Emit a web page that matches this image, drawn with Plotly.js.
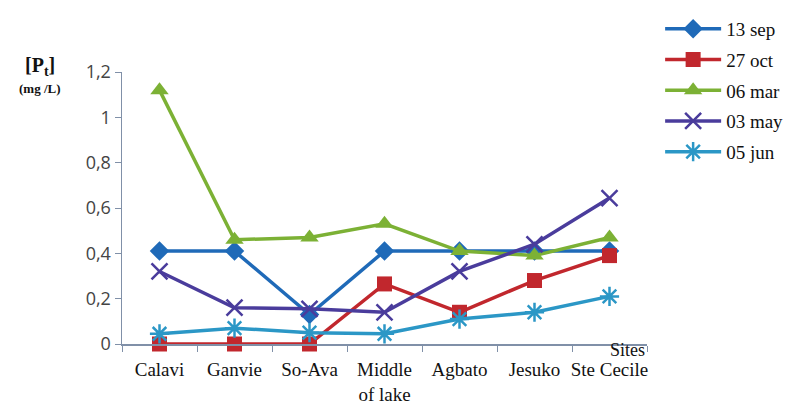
<!DOCTYPE html>
<html><head><meta charset="utf-8">
<script src="https://cdn.plot.ly/plotly-3.0.1.min.js"></script>
<style>html,body{margin:0;padding:0;background:#fff;}#c{width:791px;height:405px;}</style>
</head><body><div id="c"></div>
<script>
const sites = ["Calavi","Ganvie","So-Ava","Middle<br>of lake","Agbato","Jesuko","Ste Cecile"];
const seriesNames = ["13 sep","27 oct","06 mar","03 may","05 jun"];
const sep13 = [0.41,0.41,0.13,0.41,0.41,0.41,0.41];
const oct27 = [0,0,0,0.265,0.14,0.28,0.39];
const mar06 = [1.12,0.46,0.47,0.53,0.41,0.39,0.47];
const may03 = [0.32,0.16,0.155,0.14,0.32,0.44,0.644];
const jun05 = [0.045,0.07,0.05,0.045,0.11,0.14,0.21];
const yTicks = [0,0.2,0.4,0.6,0.8,1,1.2];
const yTickText = ["0","0,2","0,4","0,6","0,8","1","1,2"];

const SERIF = "Times New Roman, Liberation Serif, DejaVu Serif, serif";
const colors = ["#1f6ab8","#c1272d","#7cb135","#4a3c9c","#2b97c6"];
const symbols = ["diamond","square","triangle-up","x-thin-open","asterisk-open"];
const sizes = [15,15,16,16,16];
const data = [sep13,oct27,mar06,may03,jun05];
const traces = data.map((vals,i)=>({
  type:"scatter", mode:"lines+markers", x:sites, y:vals, name:seriesNames[i],
  legendgroup:"g"+i, cliponaxis:false,
  line:{color:colors[i], width:3.5},
  marker:{symbol:symbols[i], size:sizes[i], color:colors[i], line:{color:colors[i], width:(i>=3?2.5:0)}}
}));

const layout = {
  width:791, height:405,
  margin:{l:122, r:144, t:72, b:61, autoexpand:false},
  paper_bgcolor:"#fff", plot_bgcolor:"#fff",
  showlegend:true,
  legend:{x:1.025, y:1.228, xanchor:"left", yanchor:"top", tracegroupgap:3, itemwidth:56,
    font:{family:SERIF, size:19, color:"#111"}, bgcolor:"rgba(0,0,0,0)"},
  xaxis:{type:"category", range:[-0.5,6.5], showgrid:false, zeroline:false,
    showline:true, linecolor:"#8090a8", linewidth:1.5, tickangle:0,
    ticks:"outside", tickson:"boundaries", ticklen:6, tickcolor:"#8090a8",
    ticklabelstandoff:8,
    tickfont:{family:SERIF, size:19, color:"#111"}},
  yaxis:{range:[0,1.2], tickvals:yTicks, ticktext:yTickText, showgrid:false, zeroline:false,
    showline:true, linecolor:"#8090a8", linewidth:1.5,
    ticks:"outside", ticklen:6, tickcolor:"#8090a8",
    tickfont:{family:"Open Sans", size:18, color:"#444"}},
  annotations:[
    {text:"<b>[P<sub>t</sub>]</b>", xref:"paper", yref:"paper", x:-0.156, y:1.02, xanchor:"center", yanchor:"middle",
     showarrow:false, font:{family:SERIF, size:20, color:"#111"}},
    {text:"<b>(mg /L)</b>", xref:"paper", yref:"paper", x:-0.156, y:0.94, xanchor:"center", yanchor:"middle",
     showarrow:false, font:{family:SERIF, size:13, color:"#111"}},
    {text:"Sites", xref:"paper", yref:"paper", x:1.0, y:-0.022, xanchor:"right", yanchor:"middle",
     showarrow:false, font:{family:SERIF, size:18, color:"#111"}}
  ]
};
Plotly.newPlot("c", traces, layout, {displayModeBar:false, staticPlot:true});
</script></body></html>
